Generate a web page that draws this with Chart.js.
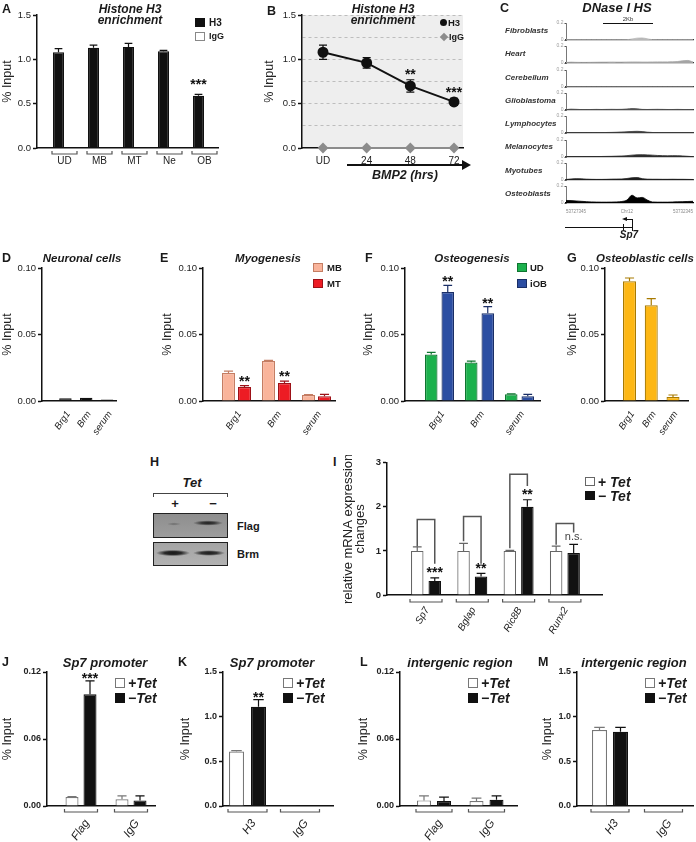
<!DOCTYPE html>
<html>
<head>
<meta charset="utf-8">
<title>Figure</title>
<script src="https://cdn.jsdelivr.net/npm/chart.js@4.4.1/dist/chart.umd.min.js"></script>
<style>
  html, body { margin: 0; padding: 0; }
  body { width: 696px; height: 842px; position: relative; overflow: hidden; background: #fff;
         font-family: "Liberation Sans", Arial, sans-serif; color: #1a1a1a; }
  canvas { position: absolute; z-index: 1; }
  .t { position: absolute; white-space: nowrap; line-height: 1; z-index: 2; }
  .box { position: absolute; box-sizing: border-box; z-index: 2; }
</style>
</head>
<body>
<script>
const FONT = '"Liberation Sans", Arial, sans-serif';

// ---- A: histone H3 across cell types
const aCats = ['UD', 'MB', 'MT', 'Ne', 'OB'];
const aH3 = [1.08, 1.13, 1.14, 1.09, 0.59];
const aH3Err = [0.04, 0.03, 0.04, 0.01, 0.015];
const aIgG = [0.006, 0.006, 0.006, 0.006, 0.006];
const aStars = ['', '', '', '', '***'];
const bigTicks = [0, 0.5, 1, 1.5];

// ---- B: H3 during BMP2 time course
const bCats = ['UD', '24', '48', '72'];
const bH3 = [1.08, 0.96, 0.70, 0.52];
const bH3Err = [0.08, 0.06, 0.07, 0.04];
const bIgG = [0, 0, 0, 0];
const bStars = ['', '', '**', '***'];
const bTicks = [0, 0.25, 0.5, 0.75, 1, 1.25, 1.5];

// ---- C: DNase I HS tracks (position in % of the 5 kb window)
const cTracks = ['Fibroblasts', 'Heart', 'Cerebellum', 'Glioblastoma', 'Lymphocytes', 'Melanocytes', 'Myotubes', 'Osteoblasts'];
const cPos = [0, 4, 8, 12, 16, 20, 24, 28, 32, 36, 40, 44, 48, 52, 56, 60, 64, 68, 72, 76, 80, 84, 88, 92, 96, 100];
const cFibro = [0.003, 0.003, 0.003, 0.003, 0.003, 0.003, 0.003, 0.003, 0.003, 0.003, 0.003, 0.003, 0.004, 0.012, 0.022, 0.024, 0.014, 0.004, 0.003, 0.003, 0.003, 0.003, 0.003, 0.003, 0.003, 0.003];
const cHeart = [0.006, 0.01, 0.008, 0.007, 0.007, 0.008, 0.009, 0.01, 0.01, 0.011, 0.01, 0.01, 0.011, 0.012, 0.012, 0.011, 0.011, 0.012, 0.013, 0.013, 0.013, 0.014, 0.018, 0.026, 0.03, 0.012];
const cCereb = [0.003, 0.003, 0.003, 0.003, 0.003, 0.003, 0.003, 0.003, 0.003, 0.003, 0.003, 0.003, 0.003, 0.004, 0.004, 0.003, 0.003, 0.003, 0.003, 0.003, 0.003, 0.003, 0.003, 0.003, 0.003, 0.003];
const cGlio = [0.004, 0.01, 0.008, 0.005, 0.005, 0.006, 0.007, 0.006, 0.007, 0.008, 0.007, 0.008, 0.012, 0.018, 0.014, 0.007, 0.006, 0.007, 0.008, 0.007, 0.006, 0.006, 0.007, 0.006, 0.005, 0.004];
const cLymph = [0.003, 0.004, 0.004, 0.004, 0.004, 0.005, 0.005, 0.005, 0.006, 0.007, 0.009, 0.012, 0.015, 0.018, 0.02, 0.017, 0.01, 0.006, 0.005, 0.005, 0.005, 0.004, 0.004, 0.004, 0.004, 0.003];
const cMelano = [0.003, 0.004, 0.004, 0.004, 0.005, 0.005, 0.005, 0.006, 0.007, 0.008, 0.01, 0.012, 0.016, 0.022, 0.026, 0.027, 0.025, 0.022, 0.018, 0.016, 0.014, 0.016, 0.015, 0.012, 0.008, 0.004];
const cMyo = [0.006, 0.012, 0.016, 0.014, 0.01, 0.008, 0.007, 0.007, 0.008, 0.01, 0.011, 0.012, 0.018, 0.026, 0.028, 0.016, 0.01, 0.009, 0.009, 0.008, 0.008, 0.009, 0.008, 0.008, 0.007, 0.006];
const cOsteo = [0.03, 0.028, 0.024, 0.02, 0.016, 0.013, 0.011, 0.01, 0.01, 0.011, 0.013, 0.018, 0.035, 0.092, 0.06, 0.066, 0.035, 0.012, 0.01, 0.01, 0.01, 0.012, 0.014, 0.016, 0.018, 0.02];

// ---- D-G: Brg1 / Brm occupancy
const geneCats = ['Brg1', 'Brm', 'serum'];
const pctTicks = [0, 0.05, 0.1];
const dNeuro = [0.002, 0.0025, 0.0012];
const eMB = [0.021, 0.030, 0.0045];
const eMBErr = [0.0015, 0.0005, 0.0003];
const eMT = [0.0105, 0.0135, 0.0035];
const eMTErr = [0.001, 0.0015, 0.0015];
const eStars = ['**', '**', ''];
const fUD = [0.035, 0.029, 0.005];
const fUDErr = [0.0015, 0.001, 0.0003];
const fIOB = [0.082, 0.066, 0.0035];
const fIOBErr = [0.005, 0.005, 0.0015];
const fStars = ['**', '**', ''];
const gOsteo = [0.090, 0.072, 0.003];
const gOsteoErr = [0.0025, 0.005, 0.0015];

// ---- I: mRNA changes
const iCats = ['Sp7', 'Bglap', 'Ric8B', 'Runx2'];
const iTicks = [0, 1, 2, 3];
const iPlus = [1, 1, 1, 1];
const iPlusErr = [0.09, 0.17, 0.01, 0.11];
const iMinus = [0.32, 0.42, 2.0, 0.95];
const iMinusErr = [0.07, 0.07, 0.16, 0.2];
const iStars = ['***', '**', '**', 'n.s.'];
const iSigTop = [1.71, 1.78, 2.74, 1.62];
const iSigLeft = [1.1, 1.22, 1.06, 1.14];
const iSigRight = [0.71, 0.71, 2.47, 1.42];

// ---- J-M: ChIP at Sp7 promoter / intergenic region
const flagCats = ['Flag', 'IgG'];
const h3Cats = ['H3', 'IgG'];
const smallTicks = [0, 0.06, 0.12];
const jPlus = [0.008, 0.006], jPlusErr = [0.0005, 0.003];
const jMinus = [0.100, 0.005], jMinusErr = [0.012, 0.004];
const jStars = ['***', ''];
const kPlus = [0.61, 0.008], kPlusErr = [0.01, 0];
const kMinus = [1.11, 0.008], kMinusErr = [0.08, 0];
const kStars = ['**', ''];
const lPlus = [0.005, 0.0045], lPlusErr = [0.004, 0.0025];
const lMinus = [0.0045, 0.0055], lMinusErr = [0.0035, 0.0035];
const mPlus = [0.85, 0.006], mPlusErr = [0.03, 0];
const mMinus = [0.83, 0.006], mMinusErr = [0.05, 0];

Chart.defaults.font.family = FONT;
Chart.defaults.color = '#222';

function canvasAt(left, top, w, h) {
  const c = document.createElement('canvas');
  c.width = w; c.height = h;
  c.style.left = left + 'px'; c.style.top = top + 'px';
  document.body.appendChild(c);
  return c;
}

// y is the cap top of the text
function put(html, x, y, size, css = '', align = 'left') {
  const d = document.createElement('div');
  d.className = 't';
  d.innerHTML = html;
  d.style.cssText = `left:${x}px;top:${y - 0.13 * size}px;font-size:${size}px;${css}`;
  if (align === 'center') d.style.transform = 'translateX(-50%)';
  if (align === 'right') d.style.transform = 'translateX(-100%)';
  document.body.appendChild(d);
  return d;
}
function box(x, y, w, h, css) {
  const d = document.createElement('div');
  d.className = 'box';
  d.style.cssText = `left:${x}px;top:${y}px;width:${w}px;height:${h}px;${css}`;
  document.body.appendChild(d);
  return d;
}

// error bars, stars, group brackets and significance brackets
const marks = {
  id: 'marks',
  afterDatasetsDraw(chart, args, o) {
    const { ctx, chartArea: area } = chart;
    const y = chart.scales.y;
    ctx.save();
    chart.data.datasets.forEach((ds, di) => {
      chart.getDatasetMeta(di).data.forEach((el, i) => {
        const v = ds.data[i].y;
        const e = ds.err ? ds.err[i] : 0;
        const top = y.getPixelForValue(v + e);
        if (e) {
          const half = o.cap || el.width * 0.35;
          const low = o.both ? y.getPixelForValue(v - e) : el.y;
          ctx.strokeStyle = ds.errColor || ds.borderColor;
          ctx.lineWidth = 1.2;
          ctx.beginPath();
          ctx.moveTo(el.x, low); ctx.lineTo(el.x, top);
          ctx.moveTo(el.x - half, top); ctx.lineTo(el.x + half, top);
          if (o.both) { ctx.moveTo(el.x - half, low); ctx.lineTo(el.x + half, low); }
          ctx.stroke();
        }
        const s = ds.stars && ds.stars[i];
        if (s) {
          const word = /[a-z]/.test(s);
          ctx.fillStyle = word ? '#444' : '#111';
          ctx.font = word ? `11px ${FONT}` : `bold 14px ${FONT}`;
          ctx.textAlign = 'center';
          ctx.textBaseline = 'alphabetic';
          ctx.fillText(s, el.x, top + (word ? -4 : (o.shift || 0)));
        }
      });
    });
    if (o.groups) {
      const metas = chart.data.datasets.map((d, di) => chart.getDatasetMeta(di));
      const by = area.bottom + o.groups;
      ctx.strokeStyle = '#555';
      ctx.lineWidth = 1.2;
      metas[0].data.forEach((el, i) => {
        let l = Infinity, r = -Infinity;
        metas.forEach(m => {
          const b = m.data[i];
          l = Math.min(l, b.x - b.width / 2);
          r = Math.max(r, b.x + b.width / 2);
        });
        ctx.beginPath();
        ctx.moveTo(l - 1, by - 3); ctx.lineTo(l - 1, by); ctx.lineTo(r + 1, by); ctx.lineTo(r + 1, by - 3);
        ctx.stroke();
      });
    }
    if (o.sig) {
      const m0 = chart.getDatasetMeta(0).data, m1 = chart.getDatasetMeta(1).data;
      ctx.strokeStyle = '#555';
      ctx.lineWidth = 1.5;
      m0.forEach((el, i) => {
        const t = y.getPixelForValue(o.sig.top[i]);
        ctx.beginPath();
        ctx.moveTo(el.x, y.getPixelForValue(o.sig.left[i]));
        ctx.lineTo(el.x, t);
        ctx.lineTo(m1[i].x, t);
        ctx.lineTo(m1[i].x, y.getPixelForValue(o.sig.right[i]));
        ctx.stroke();
      });
    }
    ctx.restore();
  }
};

const shade = {
  id: 'shade',
  beforeDraw(chart, args, o) {
    const { ctx, chartArea: r } = chart;
    ctx.save();
    ctx.fillStyle = o.color;
    ctx.fillRect(r.left, r.top, r.right - r.left, r.bottom - r.top);
    ctx.restore();
  }
};

function xScale(cats, lay, xH, o) {
  return {
    type: 'linear', offset: false,
    min: -(lay.c0 - lay.axL) / lay.step,
    max: (lay.axR - lay.c0) / lay.step,
    afterBuildTicks: s => { s.ticks = cats.map((c, i) => ({ value: i })); },
    afterFit: s => { s.height = xH; },
    ticks: {
      callback: v => cats[v], autoSkip: false,
      minRotation: o.rot || 0, maxRotation: o.rot || 0,
      font: { size: o.xSize || 10, style: o.rot ? 'italic' : 'normal' },
      color: '#222', padding: o.xPad ?? 5, labelOffset: o.xShift || 0
    },
    grid: { display: false, drawTicks: false, tickLength: 0 },
    border: { color: '#111', width: 1.5 }
  };
}

function yScale(ticks, yW, o) {
  return {
    min: 0, max: ticks[ticks.length - 1],
    afterBuildTicks: s => { s.ticks = ticks.map(v => ({ value: v })); },
    afterFit: s => { s.width = yW; },
    ticks: {
      callback: v => v.toFixed(o.dec), color: '#222', padding: 2,
      font: { size: o.tickSize || 9.5, weight: o.bold ? 'bold' : 'normal' }
    },
    grid: { drawOnChartArea: false, tickLength: 4, tickWidth: 1.5, tickColor: '#111' },
    border: { color: '#111', width: 1.5 },
    title: {
      display: true, text: o.yTitle || '% Input', color: '#222', padding: 0,
      font: { size: o.titleSize || 12.5, lineHeight: o.titleLh || 1.2 }
    }
  };
}

function barChart(lay, cats, sets, o) {
  const c = canvasAt(lay.cx, lay.top, lay.cw, lay.ch);
  const yW = lay.axL - lay.cx;
  const xH = lay.top + lay.ch - lay.axB;
  const n = sets.length;
  return new Chart(c, {
    type: 'bar',
    data: {
      datasets: sets.map(s => ({
        data: s.vals.map((v, i) => ({ x: i, y: v })),
        err: s.err, stars: s.stars,
        backgroundColor: s.fill, borderColor: s.line, borderWidth: s.bw ?? 1.2,
        categoryPercentage: n * (lay.bar + lay.gap) / lay.step,
        barPercentage: lay.bar / (lay.bar + lay.gap)
      }))
    },
    options: {
      responsive: false, animation: false,
      layout: { padding: { top: lay.axT - lay.top, right: lay.cx + lay.cw - lay.axR, left: 0, bottom: 0 } },
      scales: { x: xScale(cats, lay, xH, o), y: yScale(o.yTicks, yW, o) },
      plugins: {
        legend: { display: false }, tooltip: { enabled: false },
        marks: { shift: o.shift, groups: o.groups, sig: o.sig }
      }
    },
    plugins: [marks]
  });
}

const BLACK = '#111', WHITE = '#fff', GREY = '#777';

// ---------------- panel letters and titles
[['A', 2, 5], ['B', 267, 7], ['C', 500, 4], ['D', 2, 254], ['E', 160, 254], ['F', 365, 254], ['G', 567, 254],
 ['H', 150, 458], ['I', 333, 458], ['J', 2, 658], ['K', 178, 658], ['L', 360, 658], ['M', 538, 658]]
  .forEach(([s, x, y]) => put(s, x, y, 12.5, 'font-weight:bold'));

const BI = 'font-weight:bold;font-style:italic;';
put('Histone H3<br>enrichment', 130, 6, 12, BI + 'line-height:10.5px;text-align:center', 'center');
put('Histone H3<br>enrichment', 383, 6, 12, BI + 'line-height:10.5px;text-align:center', 'center');
put('DNase I HS', 617, 3, 13, BI, 'center');
put('Neuronal cells', 82, 254, 11.5, BI, 'center');
put('Myogenesis', 268, 254, 11.5, BI, 'center');
put('Osteogenesis', 472, 254, 11.5, BI, 'center');
put('Osteoblastic cells', 645, 254, 11.5, BI, 'center');
put('Sp7 promoter', 105, 658, 13, BI, 'center');
put('Sp7 promoter', 272, 658, 13, BI, 'center');
put('intergenic region', 460, 658, 13, BI, 'center');
put('intergenic region', 634, 658, 13, BI, 'center');

// ---------------- A
barChart({ cx: 0, top: 0, cw: 225, ch: 190, axL: 37, axT: 15, axB: 148, axR: 218, c0: 64.5, step: 35, bar: 11, gap: 1 },
  aCats,
  [{ vals: aH3, err: aH3Err, stars: aStars, fill: BLACK, line: BLACK },
   { vals: aIgG, fill: BLACK, line: BLACK, bw: 0 }],
  { yTicks: bigTicks, dec: 1, shift: -5, groups: 6, xPad: 7 });
box(195, 18, 10, 9, 'background:#111');
put('H3', 209, 19, 10, 'font-weight:bold');
box(195, 32, 10, 9, 'background:#fff;border:1px solid #888');
put('IgG', 209, 33, 9, 'font-weight:bold');

// ---------------- B
new Chart(canvasAt(262, 0, 210, 190), {
  type: 'line',
  data: {
    datasets: [
      { data: bH3.map((v, i) => ({ x: i, y: v })), err: bH3Err, stars: bStars,
        borderColor: BLACK, backgroundColor: BLACK, borderWidth: 2, pointRadius: 4.5, clip: false },
      { data: bIgG.map((v, i) => ({ x: i, y: v })),
        borderColor: '#8c8c8c', backgroundColor: '#8c8c8c', borderWidth: 2, pointStyle: 'rectRot', pointRadius: 4, clip: false }
    ]
  },
  options: {
    responsive: false, animation: false,
    layout: { padding: { top: 15, right: 9, left: 0, bottom: 0 } },
    scales: {
      x: xScale(bCats, { axL: 302, axR: 463, c0: 323, step: 43.67 }, 42, { xPad: 7 }),
      y: {
        min: 0, max: 1.5,
        afterBuildTicks: s => { s.ticks = bTicks.map(v => ({ value: v })); },
        afterFit: s => { s.width = 40; },
        ticks: { callback: v => (Math.round(v * 4) % 2 === 0 ? v.toFixed(1) : ''), font: { size: 9.5 }, color: '#222', padding: 2 },
        grid: {
          drawOnChartArea: true, lineWidth: 1, tickLength: 4, tickWidth: 1.5,
          color: c => (c.tick && c.tick.value > 0 ? '#bdbdbd' : 'rgba(0,0,0,0)'),
          tickColor: c => (c.tick && Math.round(c.tick.value * 4) % 2 === 0 ? '#111' : 'rgba(0,0,0,0)')
        },
        border: { color: '#111', width: 1.5, dash: [3, 3] },
        title: { display: true, text: '% Input', color: '#222', padding: 0, font: { size: 12.5 } }
      }
    },
    plugins: {
      legend: { display: false }, tooltip: { enabled: false },
      shade: { color: '#eeeeee' },
      marks: { both: true, cap: 4, shift: -1 }
    }
  },
  plugins: [shade, marks]
});
box(439.5, 18.5, 7, 7, 'background:#111;border-radius:50%');
put('H3', 448, 19, 9.5, 'font-weight:bold');
box(440.5, 34, 6, 6, 'background:#8c8c8c;transform:rotate(45deg)');
put('IgG', 449, 34, 9, 'font-weight:bold');
box(347, 164, 116, 2, 'background:#111');
box(462, 160, 0, 0, 'border-left:9px solid #111;border-top:5px solid transparent;border-bottom:5px solid transparent;box-sizing:content-box');
put('BMP2 (hrs)', 405, 171, 12.5, BI, 'center');

// ---------------- C
const cSeries = [cFibro, cHeart, cCereb, cGlio, cLymph, cMelano, cMyo, cOsteo];
const cFills = ['#b8b8b8', '#a4a4a4', '#808080', '#505050', '#3c3c3c', '#2c2c2c', '#1e1e1e', '#000'];
cTracks.forEach((name, k) => {
  const base = 42 + 23.3 * k;
  new Chart(canvasAt(540, base - 23, 156, 25), {
    type: 'line',
    data: {
      datasets: [{
        data: cPos.map((p, i) => ({ x: p, y: cSeries[k][i] })),
        fill: 'origin', backgroundColor: cFills[k], borderColor: cFills[k],
        borderWidth: 0.8, pointRadius: 0, cubicInterpolationMode: 'monotone'
      }]
    },
    options: {
      responsive: false, animation: false,
      layout: { padding: { top: 2, right: 3, left: 0, bottom: 0 } },
      scales: {
        x: { type: 'linear', min: 0, max: 100, ticks: { display: false }, grid: { display: false, drawTicks: false },
             border: { color: k === 7 ? '#000' : '#3a3a3a', width: 1.2 }, afterFit: s => { s.height = 2; } },
        y: { min: 0, max: 0.2,
             afterBuildTicks: s => { s.ticks = [{ value: 0 }, { value: 0.2 }]; },
             afterFit: s => { s.width = 26; },
             ticks: { callback: v => String(v), font: { size: 5 }, color: '#999', padding: 1 },
             grid: { drawOnChartArea: false, tickLength: 1.5, tickColor: '#555' },
             border: { color: '#555', width: 0.8 } }
      },
      plugins: { legend: { display: false }, tooltip: { enabled: false } }
    }
  });
  put(name, 505, base - 14, 8, BI + 'color:#333');
});
box(603, 22.5, 50, 1.5, 'background:#111');
put('2Kb', 628, 17, 6, 'color:#333', 'center');
put('53727345', 566, 211, 4.5, 'color:#888');
put('Chr12', 627, 211, 4.5, 'color:#888', 'center');
put('53732345', 693, 211, 4.5, 'color:#888', 'right');
box(565, 227, 67, 1, 'background:#111');
box(623, 224, 1, 7, 'background:#111');
box(631.5, 219, 1.2, 12, 'background:#111');
box(626, 219, 6.5, 1.2, 'background:#111');
box(622, 217, 0, 0, 'border-right:5px solid #111;border-top:2.6px solid transparent;border-bottom:2.6px solid transparent;box-sizing:content-box');
put('Sp7', 629, 231, 10, BI, 'center');

// ---------------- D, E, F, G
const rowD = { top: 250, ch: 195, axT: 268, axB: 401 };
const dOpts = { yTicks: pctTicks, dec: 2, rot: 55, xSize: 9.5, xPad: 8, xShift: 3 };
barChart({ ...rowD, cx: 0, cw: 125, axL: 42, axR: 120, c0: 66.5, step: 21.75, bar: 13, gap: 0 },
  geneCats, [{ vals: dNeuro, fill: BLACK, line: BLACK }], dOpts);

barChart({ ...rowD, cx: 160, cw: 180, axL: 203, axR: 335, c0: 236.5, step: 40, bar: 13, gap: 3 },
  geneCats,
  [{ vals: eMB, err: eMBErr, fill: '#f9b49b', line: '#c47d63' },
   { vals: eMT, err: eMTErr, stars: eStars, fill: '#ed1c24', line: '#9c1117' }],
  { ...dOpts, shift: 0 });
box(313, 263, 10, 9, 'background:#f9b49b;border:1px solid #c47d63');
put('MB', 327, 264, 9.5, 'font-weight:bold');
box(313, 279, 10, 9, 'background:#ed1c24;border:1px solid #9c1117');
put('MT', 327, 280, 9.5, 'font-weight:bold');

barChart({ ...rowD, cx: 361, cw: 184, axL: 405, axR: 540, c0: 439.5, step: 40, bar: 12.5, gap: 4 },
  geneCats,
  [{ vals: fUD, err: fUDErr, fill: '#1cb14d', line: '#0f7530' },
   { vals: fIOB, err: fIOBErr, stars: fStars, fill: '#2c4ea2', line: '#1a2e66' }],
  { ...dOpts, shift: 1 });
box(517, 263, 10, 9, 'background:#1cb14d;border:1px solid #0f7530');
put('UD', 530, 264, 9.5, 'font-weight:bold');
box(517, 279, 10, 9, 'background:#2c4ea2;border:1px solid #1a2e66');
put('iOB', 530, 280, 9.5, 'font-weight:bold');

barChart({ ...rowD, cx: 565, cw: 131, axL: 605, axR: 688, c0: 629.5, step: 21.75, bar: 13, gap: 0 },
  geneCats, [{ vals: gOsteo, err: gOsteoErr, fill: '#fdb714', line: '#a87a00' }], dOpts);

// ---------------- H (western blot)
put('Tet', 192, 478, 13, BI, 'center');
box(153, 493, 75, 4, 'border:1.2px solid #444;border-bottom:none');
put('+', 175, 499, 13, 'font-weight:bold', 'center');
put('\u2212', 213, 499, 13, 'font-weight:bold', 'center');
box(153, 513, 75, 25, 'border:1.5px solid #222;background:' +
  'radial-gradient(ellipse 15px 2.6px at 54px 9px, #1e1e1e 0%, #3a3a3a 45%, rgba(60,60,60,0) 100%),' +
  'radial-gradient(ellipse 7px 1.6px at 20px 10px, #6a6a6a 0%, rgba(110,110,110,0) 100%),' +
  'linear-gradient(#8e8e8e, #9d9d9d)');
box(153, 542, 75, 24, 'border:1.5px solid #222;background:' +
  'radial-gradient(ellipse 17px 3.2px at 19px 10px, #151515 0%, #2a2a2a 50%, rgba(40,40,40,0) 100%),' +
  'radial-gradient(ellipse 16px 2.8px at 55px 10px, #1a1a1a 0%, #333 50%, rgba(50,50,50,0) 100%),' +
  'linear-gradient(#a5a5a5, #b2b2b2)');
put('Flag', 237, 522, 11, 'font-weight:bold');
put('Brm', 237, 550, 11, 'font-weight:bold');

// ---------------- I
barChart({ cx: 342, top: 455, cw: 268, ch: 190, axL: 387, axT: 462, axB: 595, axR: 602, c0: 426, step: 46.3, bar: 12.5, gap: 5 },
  iCats,
  [{ vals: iPlus, err: iPlusErr, fill: WHITE, line: '#666' },
   { vals: iMinus, err: iMinusErr, stars: iStars, fill: BLACK, line: BLACK }],
  { yTicks: iTicks, dec: 0, bold: true, rot: 60, xSize: 10, xPad: 10, xShift: 1, groups: 7, shift: -0.5,
    yTitle: ['relative mRNA expression', 'changes'], titleSize: 13, titleLh: 0.95,
    sig: { top: iSigTop, left: iSigLeft, right: iSigRight } });
box(585, 477, 10, 9, 'background:#fff;border:1px solid #666');
put('+ <i>Tet</i>', 598, 477, 14, 'font-weight:bold');
box(585, 491, 10, 9, 'background:#111');
put('\u2212 <i>Tet</i>', 598, 491, 14, 'font-weight:bold');

// ---------------- J, K, L, M
const rowJ = { top: 650, ch: 192, axT: 672, axB: 806 };
const jOpts = { rot: 55, xSize: 11.5, xPad: 11, xShift: 6, groups: 6, bold: true, tickSize: 9 };
barChart({ ...rowJ, cx: 0, cw: 160, axL: 47, axR: 155, c0: 81, step: 50, bar: 13, gap: 5 },
  flagCats,
  [{ vals: jPlus, err: jPlusErr, fill: WHITE, line: GREY },
   { vals: jMinus, err: jMinusErr, stars: jStars, fill: BLACK, line: BLACK }],
  { ...jOpts, yTicks: smallTicks, dec: 2, shift: 2 });
barChart({ ...rowJ, cx: 178, cw: 160, axL: 223, axR: 333, c0: 247.5, step: 52.5, bar: 15, gap: 7 },
  h3Cats,
  [{ vals: kPlus, err: kPlusErr, fill: WHITE, line: GREY },
   { vals: kMinus, err: kMinusErr, stars: kStars, fill: BLACK, line: BLACK }],
  { ...jOpts, yTicks: bigTicks, dec: 1, shift: 2 });
barChart({ ...rowJ, cx: 356, cw: 166, axL: 400, axR: 517, c0: 434, step: 52.5, bar: 14, gap: 6 },
  flagCats,
  [{ vals: lPlus, err: lPlusErr, fill: WHITE, line: GREY },
   { vals: lMinus, err: lMinusErr, fill: BLACK, line: BLACK }],
  { ...jOpts, yTicks: smallTicks, dec: 2 });
barChart({ ...rowJ, cx: 540, cw: 156, axL: 577, axR: 693, c0: 610, step: 53.5, bar: 15, gap: 6 },
  h3Cats,
  [{ vals: mPlus, err: mPlusErr, fill: WHITE, line: GREY },
   { vals: mMinus, err: mMinusErr, fill: BLACK, line: BLACK }],
  { ...jOpts, yTicks: bigTicks, dec: 1 });

[115, 283, 468, 645].forEach(bx => {
  box(bx, 678, 10, 10, 'background:#fff;border:1px solid #777');
  put('+Tet', bx + 13, 678, 14, BI);
  box(bx, 693, 10, 10, 'background:#111');
  put('\u2212Tet', bx + 13, 693, 14, BI);
});
</script>
</body>
</html>
